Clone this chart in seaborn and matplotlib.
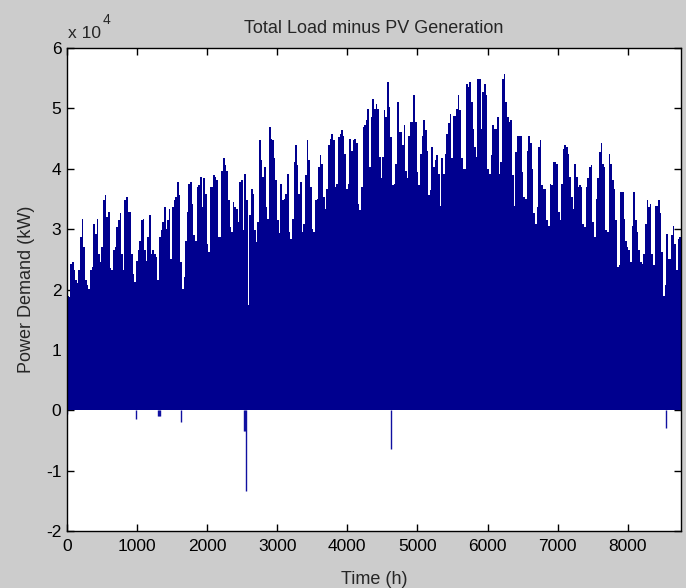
# %%
# Load libraries
import numpy as np
import matplotlib
matplotlib.use('Agg')
import matplotlib.pyplot as plt
from matplotlib.ticker import FuncFormatter
import seaborn as sns

# %%
# Daily peak of (load - PV), in units of 1e4 kW
jan_feb = [1.90, 1.88, 2.43, 2.46, 2.32, 2.15, 2.10, 2.32, 2.87, 3.16, 2.70, 2.15, 2.07, 2.01, 2.32,
           2.37, 3.09, 2.92, 3.17, 2.59, 2.46, 2.70, 3.48, 3.56, 3.20, 3.28, 2.35, 2.32, 2.65, 2.70,
           3.04, 3.15, 3.26, 2.59, 2.32, 3.48, 3.53, 3.28, 3.28, 2.59, 2.26, 2.12, 2.48, 2.65, 2.81,
           3.15, 3.17, 2.65, 2.48, 2.87, 3.23, 2.59, 2.65, 2.59, 2.54, 2.15, 2.87, 2.98, 3.12, 3.37]
mar_apr = [3.00, 3.15, 3.34, 2.51, 3.37, 3.48, 3.53, 3.78, 3.56, 2.46, 2.01, 2.21, 2.81, 3.28, 3.75,
           3.78, 3.42, 2.90, 2.81, 3.70, 3.73, 3.86, 3.37, 3.84, 3.59, 2.76, 2.62, 3.70, 3.70, 3.89,
           3.86, 3.81, 2.87, 2.87, 3.97, 4.17, 4.06, 3.97, 3.48, 3.04, 2.95, 3.45, 3.37, 3.34, 3.12,
           3.78, 3.81, 2.98, 3.92, 3.48, 1.74, 3.23, 3.67, 3.59, 2.98, 2.79, 3.12, 4.47, 4.14, 3.86,
           4.03, 3.37, 3.17, 4.69, 4.50]
may_jun = [4.47, 4.17, 3.81, 3.15, 2.94, 3.75, 3.49, 3.50, 3.59, 3.92, 2.95, 2.84, 3.17, 4.11, 4.39,
           4.06, 3.59, 3.78, 2.95, 3.09, 3.89, 4.47, 4.14, 3.70, 3.01, 2.95, 3.48, 3.50, 4.03, 4.22,
           4.08, 3.53, 3.34, 3.67, 4.39, 4.50, 4.58, 4.47, 3.70, 3.75, 4.53, 4.58, 4.64, 4.55, 4.25,
           3.67, 3.75, 4.50, 4.30, 4.47, 4.50, 4.42, 3.42, 3.31, 3.70, 4.69, 4.72, 4.80, 4.99, 4.03,
           4.86, 5.16, 4.99]
jul_aug = [5.08, 4.99, 4.19, 3.84, 4.19, 4.97, 4.86, 5.44, 5.02, 4.53, 3.73, 3.75, 4.08, 5.10, 4.61,
           4.61, 4.39, 4.72, 3.97, 3.84, 4.55, 4.77, 4.77, 5.22, 4.77, 3.95, 3.73, 4.25, 4.55, 4.80,
           4.64, 4.30, 3.56, 3.64, 4.36, 4.03, 4.14, 4.22, 3.92, 3.39, 4.17, 3.92, 4.25, 4.58, 4.75,
           4.91, 4.17, 4.88, 4.88, 4.99, 5.22, 4.97, 4.17, 4.00, 4.00, 5.41, 5.35, 5.44, 5.10, 4.66,
           4.36, 4.19, 5.49]
sep_oct = [5.49, 4.66, 5.27, 5.41, 5.22, 4.00, 3.92, 4.22, 4.72, 4.66, 4.66, 4.86, 3.92, 4.11, 5.49,
           5.57, 5.10, 4.86, 4.77, 4.80, 3.89, 3.39, 4.28, 4.55, 4.55, 4.55, 3.95, 3.53, 3.50, 4.30,
           4.55, 4.42, 4.00, 3.26, 3.09, 3.37, 4.36, 4.47, 3.73, 3.67, 3.67, 3.15, 3.06, 3.75, 3.73,
           4.11, 4.11, 4.08, 3.28, 3.15, 3.75, 4.33, 4.39, 4.36, 4.25, 3.86, 3.53, 3.34, 4.08, 3.86,
           3.70, 3.73, 3.70, 3.09, 3.04]
nov_dec = [3.70, 3.84, 4.03, 4.06, 3.12, 2.87, 3.50, 3.84, 4.28, 4.42, 4.08, 4.03, 2.98, 2.95, 4.25,
           4.08, 3.81, 3.67, 3.15, 2.37, 2.40, 3.61, 3.61, 3.17, 2.81, 2.70, 2.65, 2.46, 3.06, 3.61,
           3.15, 2.95, 2.65, 2.46, 2.43, 2.59, 3.09, 3.48, 3.37, 3.42, 2.59, 2.40, 3.39, 3.39, 3.48,
           3.26, 2.62, 1.90, 2.07, 2.92, 2.51, 2.51, 2.90, 3.06, 2.76, 2.32, 2.84, 2.87]

# single hours where PV exceeds the load (negative demand), 1e4 kW
dip_hours = [5, 985, 1300, 1310, 1320, 1630, 2530, 2540, 2550, 4620, 8545]
dip_values = [-0.06, -0.14, -0.10, -0.10, -0.10, -0.19, -0.35, -0.35, -1.34, -0.65, -0.29]

# %%
peak_kw = np.array(jan_feb + mar_apr + may_jun + jul_aug + sep_oct + nov_dec) * 1e4
step = 8760 / len(peak_kw)
hours = (np.arange(len(peak_kw)) + 0.5) * step

navy = '#00008F'
grey = '#CCCCCC'

sns.set_style('ticks')
plt.rcParams['font.family'] = ['Liberation Sans', 'DejaVu Sans']

fig = plt.figure(figsize=(6.86, 5.88), dpi=100, facecolor=grey)
ax = fig.add_axes([67 / 686, 1 - 531 / 588, 614 / 686, 483 / 588])
ax.set_facecolor('white')

sns.barplot(x=hours, y=peak_kw, native_scale=True, color=navy, saturation=1,
            width=1, linewidth=0, errorbar=None, ax=ax)
ax.vlines(dip_hours, 0, np.array(dip_values) * 1e4, color='#1010A0', linewidth=1)

ax.set_xlim(0, 8760)
ax.set_ylim(-2e4, 6e4)
ax.set_xticks(np.arange(0, 8001, 1000))
ax.set_yticks(np.arange(-2e4, 6.01e4, 1e4))
ax.yaxis.set_major_formatter(FuncFormatter(lambda v, p: f'{v / 1e4:g}'))
ax.xaxis.set_major_formatter(FuncFormatter(lambda v, p: f'{v:g}'))

ax.tick_params(direction='in', length=5, width=1, colors='black', labelsize=12.5,
               top=True, right=True)
ax.tick_params(axis='x', pad=6)
ax.tick_params(axis='y', pad=4)
for s in ax.spines.values():
    s.set_visible(True)
    s.set_color('black')
    s.set_linewidth(1)

ax.set_title('Total Load minus PV Generation', fontsize=13, pad=11)
ax.set_xlabel('Time (h)', fontsize=13, labelpad=12)
ax.set_ylabel('Power Demand (kW)', fontsize=13, labelpad=8)

fig.text(68 / 686, 1 - 34 / 588, 'x 10', fontsize=12.5, va='center', ha='left')
fig.text(103 / 686, 1 - 20 / 588, '4', fontsize=10, va='center', ha='left')

fig.savefig('out.png', dpi=100, facecolor=grey)
